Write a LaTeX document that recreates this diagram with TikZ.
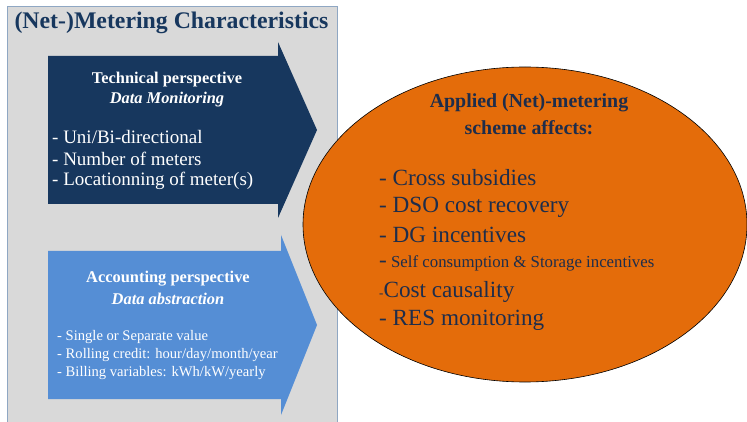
\documentclass[tikz,border=0pt]{standalone}
\usepackage{fontspec}
\setmainfont{Liberation Serif}
\definecolor{navy}{RGB}{23,55,94}
\definecolor{lblue}{RGB}{85,142,213}
\definecolor{orng}{RGB}{228,108,10}
\definecolor{panel}{RGB}{217,217,217}
\definecolor{pborder}{RGB}{143,167,195}
\definecolor{etext}{RGB}{30,45,75}
\tikzset{
  wtxt/.style={text=white, inner sep=0pt},
  etxt/.style={text=etext, inner sep=0pt, anchor=west},
}
\begin{document}
\begin{tikzpicture}[x=1pt,y=-1pt]
\useasboundingbox (0,0) rectangle (747,422);
\fill[white] (0,0) rectangle (747,422);
% panel
\draw[pborder, fill=panel, line width=0.8pt] (7,426) -- (7,6) -- (337,6) -- (337,426);
\node[text=navy, font=\fontsize{23.8}{26}\selectfont\bfseries, inner sep=0pt] (title) at (171.5,23) {(Net-)Metering Characteristics};
% dark arrow
\fill[navy] (48,56) -- (278,56) -- (278,42) -- (317,130) -- (278,218) -- (278,204) -- (48,204) -- cycle;
\node[wtxt, font=\fontsize{16.4}{18}\selectfont\bfseries] (t1) at (167,80) {Technical perspective};
\node[wtxt, font=\fontsize{16.4}{18}\selectfont\bfseries\itshape] (t2) at (167,100) {Data Monitoring};
\node[wtxt, anchor=west, font=\fontsize{19}{22}\selectfont] (t3) at (52,137) {- Uni/Bi-directional};
\node[wtxt, anchor=west, font=\fontsize{19}{22}\selectfont] (t4) at (52,159) {- Number of meters};
\node[wtxt, anchor=west, font=\fontsize{19}{22}\selectfont] (t5) at (52,181) {- Locationning of meter(s)};
% light arrow
\fill[lblue] (48,251) -- (281,251) -- (281,235) -- (317,325) -- (281,415) -- (281,399) -- (48,399) -- cycle;
\node[wtxt, font=\fontsize{16.4}{18}\selectfont\bfseries] (a1) at (168,279) {Accounting perspective};
\node[wtxt, font=\fontsize{16.4}{18}\selectfont\bfseries\itshape] (a2) at (168,299) {Data abstraction};
\node[wtxt, anchor=west, font=\fontsize{14.6}{17}\selectfont] (a3) at (57,337) {- Single or Separate value};
\node[wtxt, anchor=west, font=\fontsize{14.6}{17}\selectfont] (a4) at (57,355) {- Rolling credit: hour/day/month/year};
\node[wtxt, anchor=west, font=\fontsize{14.6}{17}\selectfont] (a5) at (57,373) {- Billing variables: kWh/kW/yearly};
% ellipse
\draw[fill=orng, draw=black, line width=0.6pt] (525,224.5) ellipse [x radius=222, y radius=157.5];
\node[etxt, anchor=center, font=\fontsize{19.9}{22}\selectfont\bfseries] (e1) at (529,103) {Applied (Net)-metering};
\node[etxt, anchor=center, font=\fontsize{19.9}{22}\selectfont\bfseries] (e2) at (529,128) {scheme affects:};
\node[etxt, font=\fontsize{23.2}{26}\selectfont] (e3) at (379,178) {- Cross subsidies};
\node[etxt, font=\fontsize{23.2}{26}\selectfont] (e4) at (379,207) {- DSO cost recovery};
\node[etxt, font=\fontsize{23.2}{26}\selectfont] (e5) at (379,235) {- DG incentives};
\node[etxt, font=\fontsize{16.8}{19}\selectfont] (e6) at (379,263) {{\fontsize{23.2}{26}\selectfont -} Self consumption \& Storage incentives};
\node[etxt, font=\fontsize{23.2}{26}\selectfont] (e7) at (379,292) {{\fontsize{13}{15}\selectfont -}Cost causality};
\node[etxt, font=\fontsize{23.2}{26}\selectfont] (e8) at (379,320) {- RES monitoring};
\end{tikzpicture}
\end{document}
